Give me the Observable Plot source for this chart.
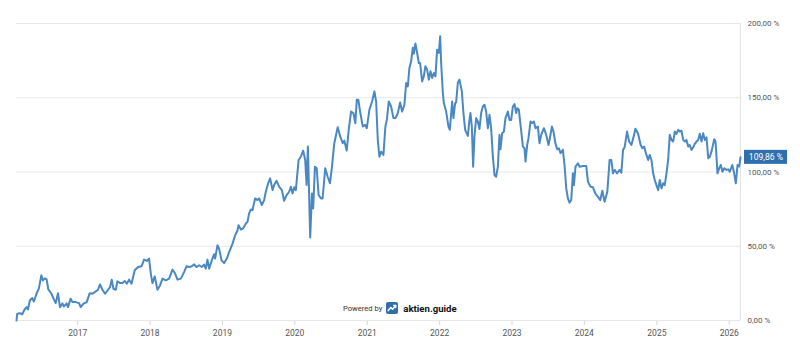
<!DOCTYPE html>
<html>
<head>
<meta charset="utf-8">
<script src="https://cdn.jsdelivr.net/npm/d3@7"></script>
<script src="https://cdn.jsdelivr.net/npm/@observablehq/plot@0.6"></script>
<style>
  html, body { margin: 0; padding: 0; background: #fff; }
  #wrap { position: relative; width: 800px; height: 351px; font-family: Roboto, sans-serif; }
  #wrap svg g[aria-label^="x-axis"] line,
  #wrap svg g[aria-label^="x-axis"] path { stroke: #d6d6d6; }
  #wrap svg g[aria-label^="x-axis"] text { fill: #555; }
  #wrap svg g[aria-label^="y-axis"] text { fill: #555; font-size: 8px; }
  #powered { position: absolute; left: 343px; top: 302px; display: flex; align-items: center; gap: 4px; white-space: nowrap; }
  #powered .pb { font-size: 7.6px; color: #333; }
  #powered .brand { font-size: 9.6px; font-weight: 700; color: #111; margin-left: 1px; }
</style>
</head>
<body>
<div id="wrap"></div>
<script>
// Decimal years (time) and performance in percent
const years = [
2016.156,2016.166,2016.212,2016.235,2016.267,2016.295,2016.313,2016.340,2016.373,2016.396,
2016.433,2016.465,2016.498,2016.520,2016.548,2016.571,2016.595,2016.636,2016.672,2016.696,
2016.728,2016.755,2016.788,2016.811,2016.848,2016.866,2016.903,2016.927,2016.972,2017.018,
2017.041,2017.079,2017.124,2017.166,2017.203,2017.235,2017.281,2017.308,2017.342,2017.378,
2017.419,2017.447,2017.470,2017.494,2017.526,2017.549,2017.585,2017.618,2017.650,2017.678,
2017.710,2017.743,2017.788,2017.834,2017.881,2017.917,2017.954,2017.986,2018.010,2018.033,
2018.065,2018.102,2018.138,2018.172,2018.217,2018.263,2018.310,2018.346,2018.379,2018.425,
2018.470,2018.503,2018.539,2018.577,2018.609,2018.642,2018.678,2018.715,2018.747,2018.770,
2018.794,2018.816,2018.853,2018.885,2018.899,2018.932,2018.954,2018.988,2019.024,2019.061,
2019.093,2019.140,2019.176,2019.209,2019.223,2019.255,2019.286,2019.324,2019.347,2019.369,
2019.393,2019.416,2019.452,2019.486,2019.508,2019.545,2019.577,2019.600,2019.632,2019.660,
2019.693,2019.715,2019.748,2019.784,2019.822,2019.853,2019.887,2019.923,2019.946,2019.970,
2019.992,2020.015,2020.053,2020.084,2020.116,2020.144,2020.163,2020.181,2020.213,2020.237,
2020.254,2020.278,2020.302,2020.329,2020.361,2020.384,2020.420,2020.454,2020.485,2020.513,
2020.545,2020.592,2020.624,2020.661,2020.683,2020.716,2020.744,2020.776,2020.808,2020.835,
2020.855,2020.877,2020.904,2020.938,2020.970,2020.993,2021.029,2021.066,2021.098,2021.122,
2021.145,2021.167,2021.191,2021.223,2021.250,2021.270,2021.297,2021.329,2021.361,2021.389,
2021.422,2021.454,2021.481,2021.513,2021.537,2021.560,2021.582,2021.606,2021.629,2021.643,
2021.665,2021.685,2021.712,2021.730,2021.758,2021.781,2021.803,2021.827,2021.851,2021.873,
2021.896,2021.920,2021.942,2021.965,2021.989,2022.007,2022.021,2022.044,2022.058,2022.090,
2022.122,2022.141,2022.173,2022.191,2022.214,2022.228,2022.252,2022.274,2022.307,2022.329,
2022.353,2022.390,2022.412,2022.426,2022.445,2022.463,2022.481,2022.505,2022.528,2022.550,
2022.574,2022.597,2022.620,2022.643,2022.667,2022.689,2022.712,2022.736,2022.758,2022.781,
2022.805,2022.827,2022.841,2022.864,2022.888,2022.910,2022.943,2022.965,2022.989,2023.012,
2023.035,2023.058,2023.072,2023.095,2023.118,2023.151,2023.173,2023.187,2023.210,2023.228,
2023.256,2023.279,2023.303,2023.325,2023.358,2023.380,2023.404,2023.441,2023.473,2023.505,
2023.528,2023.552,2023.574,2023.598,2023.625,2023.649,2023.671,2023.704,2023.726,2023.750,
2023.773,2023.795,2023.819,2023.842,2023.856,2023.878,2023.912,2023.934,2023.981,2024.026,
2024.050,2024.086,2024.119,2024.151,2024.188,2024.220,2024.248,2024.279,2024.317,2024.348,
2024.372,2024.395,2024.418,2024.451,2024.487,2024.510,2024.534,2024.556,2024.589,2024.617,
2024.649,2024.686,2024.704,2024.741,2024.777,2024.801,2024.824,2024.856,2024.880,2024.902,
2024.925,2024.949,2024.971,2024.994,2025.018,2025.040,2025.064,2025.087,2025.109,2025.133,
2025.156,2025.178,2025.202,2025.225,2025.248,2025.271,2025.295,2025.317,2025.340,2025.364,
2025.386,2025.409,2025.433,2025.455,2025.479,2025.502,2025.524,2025.548,2025.571,2025.593,
2025.617,2025.640,2025.663,2025.686,2025.710,2025.732,2025.755,2025.793,2025.811,2025.838,
2025.862,2025.884,2025.907,2025.931,2025.963,2025.986,2026.008,2026.042,2026.064,2026.091,
2026.115,2026.138,2026.156
];

const pct = [
0,4.5,4.9,4.1,7.4,9.0,7.4,13.5,15.1,12.8,
18.2,21.6,30.4,27.0,28.4,27.7,20.9,18.2,14.2,11.7,
18.4,9.0,11.5,9.5,11.5,9.0,14.7,12.4,12.4,11.7,
9.0,11.3,12.4,18.4,18.0,19.1,20.7,24.3,20.7,18.0,
20.7,22.5,27.5,21.4,20.7,26.4,25.2,25.2,26.6,24.8,
27.5,24.8,33.8,36.0,36.5,41.0,40.1,41.7,31.6,25.2,
29.7,20.7,23.6,28.2,27.0,28.2,34.3,31.6,27.5,28.2,
32.6,36.5,36.0,36.5,37.8,36.0,37.2,36.0,37.6,34.9,
41.0,34.9,40.5,44.6,41.7,50.7,48.4,40.5,38.7,41.7,
46.1,51.8,57.4,60.8,64.2,61.3,62.0,65.3,66.4,72.1,
74.8,74.3,82.2,81.1,82.2,77.7,81.1,86.7,92.4,95.7,
87.8,91.2,94.1,90.1,87.8,80.6,84.5,86.7,90.1,85.6,
89.7,87.8,108.1,110.3,114.4,108.1,91.2,117.1,55.9,85.6,
75.5,103.6,102.5,84.5,82.2,82.2,102.5,96.8,92.4,103.6,
119.4,130.2,124.3,119.4,121.1,114.4,128.4,140.7,139.7,132.9,
148.6,148.6,139.7,130.6,131.8,129.5,141.9,147.5,154.3,147.5,
121.6,110.3,113.7,111.5,130.6,135.1,147.5,144.1,136.3,136.3,
139.7,146.8,140.7,145.3,159.9,157.6,170.1,174.5,183.6,179.7,
186.5,181.3,173.4,173.4,161.0,164.4,171.2,168.9,162.2,167.8,
163.3,166.7,164.4,182.4,180.2,191.4,173.4,153.2,146.4,140.7,
130.6,128.4,147.5,136.3,146.4,146.8,160.3,162.2,154.3,139.7,
128.4,124.3,135.1,139.7,130.6,103.6,123.9,136.3,134.0,128.9,
139.7,144.1,145.3,140.7,129.5,138.5,129.5,110.3,98.0,96.8,
103.6,125.0,115.3,126.1,127.2,136.3,140.7,135.1,135.1,144.1,
145.7,139.7,143.0,141.9,131.8,117.1,116.0,107.0,118.2,122.8,
134.0,132.9,134.0,129.5,130.6,119.4,125.0,129.5,125.0,118.2,
123.9,130.6,127.2,119.8,115.3,116.0,112.6,114.9,104.7,89.0,
82.2,79.3,81.1,99.1,91.2,103.6,105.9,103.6,104.1,104.1,
93.4,90.1,89.7,85.6,83.3,81.1,87.4,79.9,86.7,108.1,
108.1,99.1,101.4,99.1,101.4,99.5,114.9,116.7,127.2,120.5,
118.2,125.0,129.1,125.7,118.2,116.0,117.1,111.5,108.1,111.5,
108.1,99.1,94.6,91.2,87.8,94.6,89.0,92.4,91.2,99.1,
108.1,125.0,121.6,120.5,127.2,125.7,128.4,127.2,127.9,121.6,
120.5,121.6,117.1,118.2,114.9,116.7,118.9,120.5,121.6,125.7,
120.5,126.1,121.6,123.4,109.3,110.3,113.7,122.1,120.5,99.1,
102.5,104.7,100.2,102.5,101.4,101.8,100.2,104.7,100.2,92.4,
104.7,103.6,109.86
];

const xTickYears = [2017, 2018, 2019, 2020, 2021, 2022, 2023, 2024, 2025, 2026];
const yTicks = [0, 50, 100, 150, 200];

function decYear(t) {
  const y = Math.floor(t);
  const a = Date.UTC(y, 0, 1), b = Date.UTC(y + 1, 0, 1);
  return new Date(a + (t - y) * (b - a));
}
const fmtPct = d => d3.format(".2f")(d).replace(".", ",") + " %";

const data = years.map((t, i) => ({date: decYear(t), value: pct[i]}));
const last = data[data.length - 1];
const xDomain = d3.extent(data, d => d.date);

const chart = Plot.plot({
  width: 800,
  height: 351,
  marginLeft: 16,
  marginRight: 60,
  marginTop: 23,
  marginBottom: 31,
  style: {fontFamily: "Roboto, sans-serif", fontSize: "8.5px", color: "#555", background: "transparent", overflow: "visible"},
  x: {type: "utc", domain: xDomain, ticks: xTickYears.map(y => new Date(Date.UTC(y, 0, 1))), tickFormat: d3.utcFormat("%Y"), tickSize: 5, tickPadding: 4, label: null},
  y: {domain: [0, 200], ticks: yTicks, axis: "right", tickSize: 0, tickPadding: 7, tickFormat: fmtPct, label: null},
  marks: [
    Plot.ruleY(yTicks, {stroke: "#e6e6e6", strokeWidth: 1}),
    Plot.ruleX([xDomain[1]], {stroke: "#e3e3e3", strokeWidth: 1}),
    Plot.lineY(data, {x: "date", y: "value", stroke: "#4a88c3", strokeWidth: 2, strokeLinejoin: "round"}),
    Plot.rect([last], {x1: "date", x2: "date", y1: "value", y2: "value", insetLeft: 4, insetRight: -47, insetTop: -7, insetBottom: -7, fill: "#2f6fae"}),
    Plot.text([last], {x: "date", y: "value", text: d => fmtPct(d.value), dx: 25.5, fill: "white", textAnchor: "middle", fontSize: 8.6})
  ]
});

const wrap = document.getElementById("wrap");
wrap.appendChild(chart);

const pw = document.createElement("div");
pw.id = "powered";
pw.innerHTML = '<span class="pb">Powered by</span>' +
  '<svg width="12" height="12" viewBox="0 0 12 12"><rect x="0" y="0" width="12" height="12" rx="2" fill="#2f6fae"/>' +
  '<polyline points="2.2,8.6 4.8,5.6 6.6,7.2 9.6,3.6" fill="none" stroke="white" stroke-width="1.5" stroke-linecap="round" stroke-linejoin="round"/>' +
  '<polyline points="7.6,3.4 9.8,3.4 9.8,5.6" fill="none" stroke="white" stroke-width="1.3" stroke-linecap="round" stroke-linejoin="round"/></svg>' +
  '<span class="brand">aktien.guide</span>';
wrap.appendChild(pw);
</script>
</body>
</html>
